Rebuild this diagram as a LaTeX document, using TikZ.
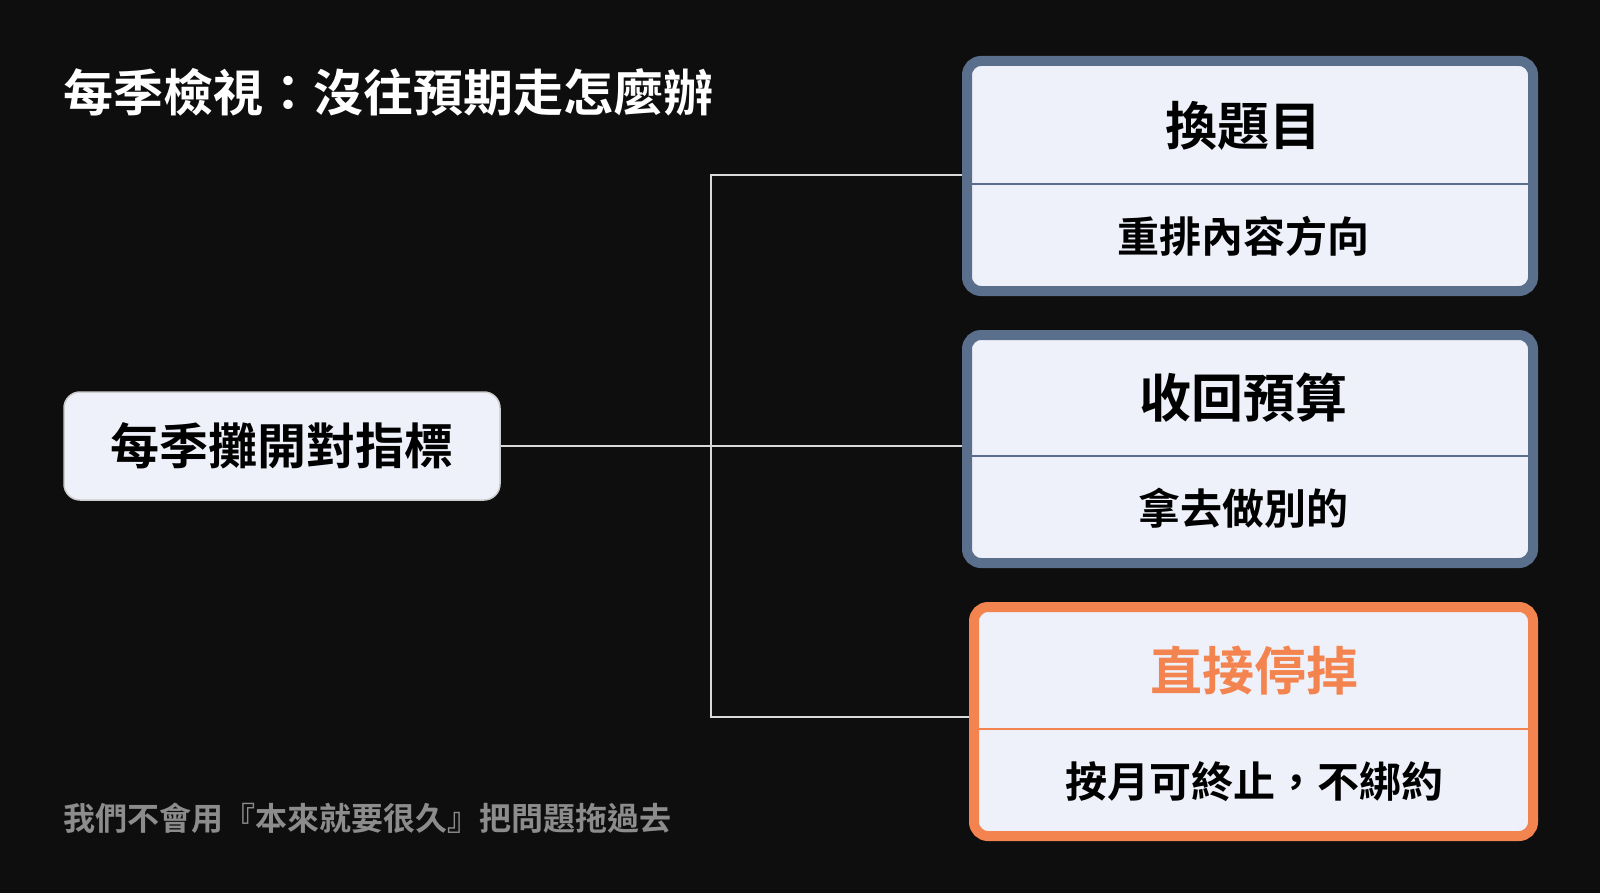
\documentclass[tikz,border=0pt]{standalone}
\usepackage{fontspec}
\newfontfamily\cjk{Noto Sans CJK TC Bold}
\begin{document}
\begin{tikzpicture}[x=1pt,y=-1pt,
  card/.style={rounded corners=14pt,line width=10pt,fill=cardfill},
  div/.style={line width=1.5pt},
  link/.style={draw=white!85!black,line width=2pt},
  head/.style={font=\cjk\fontsize{52}{60}\selectfont,anchor=center},
  sub/.style={font=\cjk\fontsize{42}{50}\selectfont,anchor=center,text=black}]
\definecolor{bg}{HTML}{0E0E0E}
\definecolor{cardfill}{HTML}{EEF1FA}
\definecolor{slate}{HTML}{5A6F8C}
\definecolor{accent}{HTML}{F4844F}
\fill[bg] (0,0) rectangle (1600,893);
\useasboundingbox (0,0) rectangle (1600,893);
\node[font=\cjk\fontsize{50}{58}\selectfont,text=white,anchor=west] (title) at (60,92) {每季檢視：沒往預期走怎麼辦};
\node[draw=white!80!black,line width=1.5pt,fill=cardfill,rounded corners=16pt,minimum width=436pt,minimum height=108pt,font=\cjk\fontsize{49}{56}\selectfont] (root) at (282,446) {每季攤開對指標};
% cards
\draw[card,draw=slate] (967,61) rectangle (1533,291);
\draw[div,draw=slate] (972,184) -- (1528,184);
\node[head] (h1) at (1243,126) {換題目};
\node[sub] (s1) at (1243,236) {重排內容方向};
\draw[card,draw=slate] (967,335) rectangle (1533,563);
\draw[div,draw=slate] (972,456) -- (1528,456);
\node[head] (h2) at (1243,398) {收回預算};
\node[sub] (s2) at (1243,508) {拿去做別的};
\draw[card,draw=accent] (974,607) rectangle (1533,836);
\draw[div,draw=accent] (979,729) -- (1528,729);
\node[head,text=accent] (h3) at (1254,671) {直接停掉};
\node[sub] (s3) at (1254,782) {按月可終止，不綁約};
\coordinate (c1) at (962,175);
\coordinate (c2) at (962,446);
\coordinate (c3) at (969,717);
\coordinate (j) at (711,446);
\draw[link] (root.east) -- (c2);
\draw[link] (c1) -- (711,175) -- (711,717) -- (c3);
\node[font=\cjk\fontsize{32}{38}\selectfont,text=white!55!black,anchor=west] (foot) at (60,818) {我們不會用『本來就要很久』把問題拖過去};
\end{tikzpicture}
\end{document}
